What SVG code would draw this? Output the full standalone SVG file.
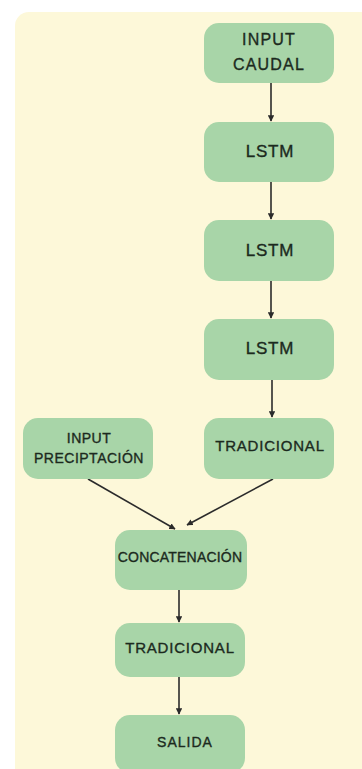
<svg xmlns="http://www.w3.org/2000/svg" width="362" height="769" viewBox="0 0 362 769">
<defs>
<marker id="ah" viewBox="0 0 10 10" refX="9" refY="5" markerWidth="4" markerHeight="4" orient="auto">
<path d="M0,0 L10,5 L0,10 z" fill="#2b2b2b"/>
</marker>
</defs>
<style>
.n{fill:#a8d5a8}
.t{font-family:"Liberation Sans",Arial,sans-serif;fill:#1c2a1e;stroke:#1c2a1e;stroke-width:0.35;text-anchor:middle}
.c{stroke:#2b2b2b;stroke-width:1.6;fill:none;marker-end:url(#ah)}
</style>
<rect x="0" y="0" width="362" height="769" fill="#ffffff"/>
<rect x="15" y="12" width="370" height="780" rx="14" fill="#fdf8d9"/>
<g id="connectors">
<line class="c" x1="271" y1="83" x2="271" y2="121"/>
<line class="c" x1="271" y1="182" x2="271" y2="219"/>
<line class="c" x1="271" y1="281" x2="271" y2="318"/>
<line class="c" x1="272" y1="380" x2="272" y2="417"/>
<line class="c" x1="88" y1="479" x2="175" y2="529"/>
<line class="c" x1="273" y1="479" x2="187" y2="525"/>
<line class="c" x1="179" y1="590" x2="179" y2="622"/>
<line class="c" x1="179" y1="677" x2="179" y2="714"/>
</g>
<g id="input_caudal"><rect class="n" x="204" y="23" width="130" height="60" rx="15"/>
<text class="t" x="269" y="45" font-size="16" letter-spacing="1.2">INPUT</text>
<text class="t" x="269" y="70" font-size="16" letter-spacing="1.2">CAUDAL</text></g>
<g id="lstm1"><rect class="n" x="204" y="122" width="130" height="60" rx="15"/>
<text class="t" x="270" y="157" font-size="17" letter-spacing="0.8">LSTM</text></g>
<g id="lstm2"><rect class="n" x="204" y="220" width="130" height="61" rx="15"/>
<text class="t" x="270" y="256" font-size="17" letter-spacing="0.8">LSTM</text></g>
<g id="lstm3"><rect class="n" x="204" y="319" width="130" height="61" rx="15"/>
<text class="t" x="270" y="354" font-size="17" letter-spacing="0.8">LSTM</text></g>
<g id="tradicional1"><rect class="n" x="204" y="418" width="130" height="61" rx="15"/>
<text class="t" x="270" y="451" font-size="15" letter-spacing="0.8">TRADICIONAL</text></g>
<g id="input_precipitacion"><rect class="n" x="23" y="418" width="130" height="61" rx="15"/>
<text class="t" x="89" y="443" font-size="14" letter-spacing="0.5">INPUT</text>
<text class="t" x="89" y="463" font-size="14" letter-spacing="0.5">PRECIPTACIÓN</text></g>
<g id="concatenacion"><rect class="n" x="115" y="530" width="132" height="60" rx="15"/>
<text class="t" x="180" y="562" font-size="14" letter-spacing="0.2">CONCATENACIÓN</text></g>
<g id="tradicional2"><rect class="n" x="115" y="623" width="130" height="54" rx="15"/>
<text class="t" x="180" y="653" font-size="15" letter-spacing="0.8">TRADICIONAL</text></g>
<g id="salida"><rect class="n" x="115" y="715" width="130" height="58" rx="15"/>
<text class="t" x="185" y="747" font-size="14" letter-spacing="1">SALIDA</text></g>
</svg>
